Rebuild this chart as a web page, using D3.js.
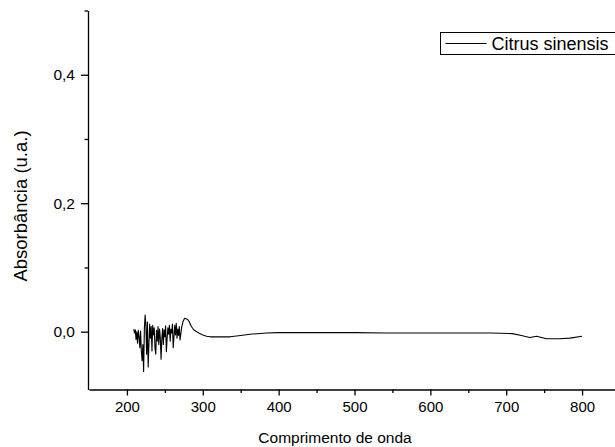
<!DOCTYPE html>
<html>
<head>
<meta charset="utf-8">
<script src="https://cdn.jsdelivr.net/npm/d3@7"></script>
<style>
  html, body { margin: 0; padding: 0; background: #fff; }
  svg { display: block; font-family: "Liberation Sans", Arial, sans-serif; }
</style>
</head>
<body>
<svg id="chart" width="615" height="447"></svg>
<script>
// UV-Vis spectrum: wavelength (nm) and absorbance (a.u.)
const wavelengths = [
  209, 210, 211, 212, 213, 214, 215, 216, 217, 218, 219, 220, 221, 222, 223, 224,
  225, 226, 227, 228, 229, 230, 231, 232, 233, 234, 235, 236, 237, 238, 239, 240,
  241, 242, 243, 244, 245, 246, 247, 248, 249, 250, 251, 252, 253, 254, 255, 256,
  257, 258, 259, 260, 261, 262, 263, 264, 265, 266, 267, 268, 269, 270, 271, 272,
  274, 276, 278, 280, 282, 285, 288, 292, 296, 300, 305, 310, 320, 336, 350, 362,
  384, 400, 450, 500, 540, 600, 680, 708, 720, 731, 740, 753, 770, 784, 800
];
const absorbance = [
  0.004, -0.002, 0.003, -0.012, 0.000, -0.018, 0.002, -0.008, -0.025, 0.001, -0.030, -0.045, -0.020, -0.062, 0.005, 0.026,
  0.010, -0.035, 0.015, -0.055, -0.020, 0.012, -0.010, 0.008, -0.030, 0.010, -0.005, 0.006, -0.025, -0.035, 0.002, -0.015,
  0.008, -0.020, 0.004, -0.010, -0.043, -0.012, 0.005, -0.020, 0.003, -0.008, 0.009, -0.031, -0.010, 0.006, -0.004, 0.010,
  -0.015, 0.004, -0.002, 0.012, -0.025, -0.008, 0.010, -0.005, 0.013, -0.010, 0.004, -0.006, 0.008, -0.013, -0.004, 0.006,
  0.016, 0.021, 0.020, 0.019, 0.016, 0.008, 0.003, 0.000, -0.003, -0.005, -0.007, -0.008, -0.008, -0.008, -0.006, -0.004,
  -0.002, -0.0015, -0.0015, -0.0015, -0.002, -0.002, -0.002, -0.003, -0.006, -0.009, -0.007, -0.011, -0.011, -0.010, -0.007
];

const xTicks = [200, 300, 400, 500, 600, 700, 800];
const xMinorTicks = [250, 350, 450, 550, 650, 750];
const yTicks = [0.0, 0.2, 0.4];
const yMinorTicks = [0.1, 0.3, 0.5];
const seriesName = "Citrus sinensis";

const svg = d3.select("#chart");
const margin = { left: 88, top: 10.5, bottom: 389.5 };

const x = d3.scaleLinear().domain([150, 850]).range([89, 620]);
const y = d3.scaleLinear().domain([-0.09, 0.5]).range([margin.bottom, margin.top]);

const fmt = d => d3.format(".1f")(d).replace(".", ",");

// x axis
const gx = svg.append("g").attr("transform", `translate(0,${margin.bottom})`);
gx.call(d3.axisBottom(x).tickValues(xTicks).tickSize(6).tickSizeOuter(0).tickPadding(6))
  .call(g => g.select(".domain").attr("stroke", "#000").attr("stroke-width", 1.3))
  .call(g => g.selectAll(".tick line").attr("stroke-width", 1.3))
  .call(g => g.selectAll("text").attr("font-size", 15).attr("fill", "#000")
    .attr("font-family", "'Liberation Sans', Arial, sans-serif"));
gx.append("g").call(d3.axisBottom(x).tickValues(xMinorTicks).tickSize(3.5).tickFormat(""))
  .call(g => g.select(".domain").remove())
  .call(g => g.selectAll(".tick line").attr("stroke-width", 1.3));

// y axis
const gy = svg.append("g").attr("transform", `translate(${margin.left},0)`);
gy.call(d3.axisLeft(y).tickValues(yTicks).tickFormat(fmt).tickSize(7).tickSizeOuter(0).tickPadding(6))
  .call(g => g.select(".domain").attr("stroke", "#000").attr("stroke-width", 1.3))
  .call(g => g.selectAll(".tick line").attr("stroke-width", 1.3))
  .call(g => g.selectAll("text").attr("font-size", 15.5).attr("fill", "#000")
    .attr("font-family", "'Liberation Sans', Arial, sans-serif"));
gy.append("g").call(d3.axisLeft(y).tickValues(yMinorTicks).tickSize(3.5).tickFormat(""))
  .call(g => g.select(".domain").remove())
  .call(g => g.selectAll(".tick line").attr("stroke-width", 1.3));

// axis titles
svg.append("text")
  .attr("x", 335).attr("y", 443)
  .attr("text-anchor", "middle")
  .attr("font-size", 15.5)
  .text("Comprimento de onda");

svg.append("text")
  .attr("transform", "translate(27,206) rotate(-90)")
  .attr("text-anchor", "middle")
  .attr("font-size", 18.5)
  .text("Absorbância (u.a.)");

// spectrum line
const points = wavelengths.map((w, i) => [w, absorbance[i]]);
svg.append("path")
  .datum(points)
  .attr("fill", "none")
  .attr("stroke", "#000")
  .attr("stroke-width", 1.1)
  .attr("stroke-linejoin", "round")
  .attr("d", d3.line().x(d => x(d[0])).y(d => y(d[1])));

// legend
const legend = svg.append("g").attr("transform", "translate(440.5,32.5)");
legend.append("rect")
  .attr("width", 200).attr("height", 22)
  .attr("fill", "#fff").attr("stroke", "#000").attr("stroke-width", 1);
legend.append("line")
  .attr("x1", 5).attr("x2", 46).attr("y1", 11).attr("y2", 11)
  .attr("stroke", "#000").attr("stroke-width", 1.1);
legend.append("text")
  .attr("x", 51).attr("y", 17)
  .attr("font-size", 18)
  .text(seriesName);
</script>
</body>
</html>
